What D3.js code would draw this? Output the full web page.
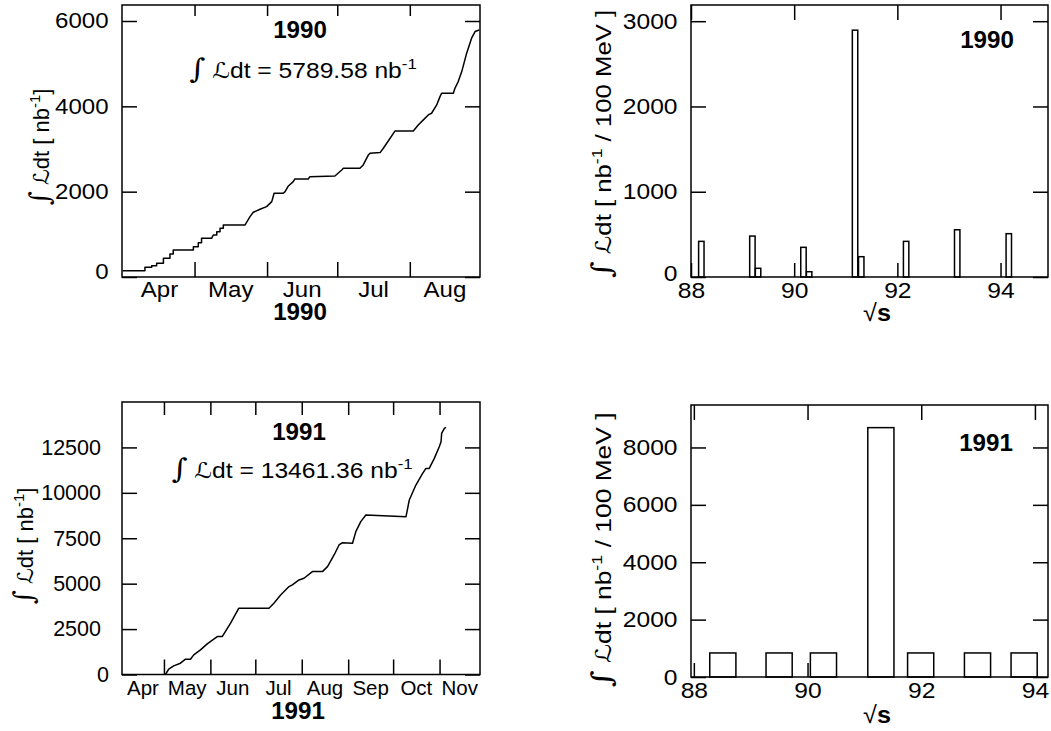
<!DOCTYPE html>
<html>
<head>
<meta charset="utf-8">
<script src="https://cdn.jsdelivr.net/npm/d3@7"></script>
<style>
  body { margin: 0; background: #fff; }
  svg { display: block; }
  text { font-family: "Liberation Sans", Arial, Helvetica, sans-serif; fill: #000; }
</style>
</head>
<body>
<svg width="1051" height="731"></svg>
<script>
// ---- integrated luminosity vs date (day of year, 0 = Jan 1) ----
const day90 = [89.3, 98.8, 98.8, 101.7, 101.7, 103.8, 103.8, 106.7, 106.7, 109.5, 109.5, 110.9, 110.9,
  119.5, 119.5, 121.6, 121.6, 123, 123, 127.3, 128, 129.5, 129.5, 130.9, 130.9, 132.3, 132.3, 141.6,
  143.7, 145.1, 148, 150.8, 153, 154, 157.9, 158.7, 160.1, 162.2, 162.9, 168.6, 169.3, 180, 182.9,
  183.6, 190.7, 192.1, 194.3, 195, 199.3, 200.7, 205.7, 213.5, 215.6, 217.8, 219.9, 221.3, 223.5,
  224.9, 225.6, 230.6, 231.3, 232.7, 234.2, 236.3, 238.4, 239.9, 241.6];
const lumi90 = [148, 148, 227, 227, 265, 265, 321, 321, 438, 438, 539, 539, 633,
  633, 711, 711, 805, 805, 907, 907, 985, 985, 1063, 1063, 1141, 1141, 1219, 1219,
  1414, 1517, 1587, 1649, 1766, 1962, 1962, 2000, 2134, 2235, 2298, 2298, 2352, 2368, 2509,
  2548, 2548, 2626, 2861, 2900, 2916, 3017, 3424, 3424, 3564, 3682, 3799, 3838, 4033,
  4228, 4307, 4307, 4424, 4580, 4814, 5246, 5597, 5753, 5790];

const day91 = [121, 123.2, 126.5, 131, 134.4, 137.7, 139.9, 144.4, 148.9, 155.6, 158.9, 164.5, 170,
  190.1, 193.4, 197.9, 203.5, 205.7, 210.2, 213.5, 219.1, 225.8, 229.2, 233.6, 236.9, 239.2, 245.9,
  248.1, 251.4, 254.8, 281.6, 283.8, 288.2, 292.7, 294.9, 297.1, 300.5, 303.8, 305, 305.4, 307.2, 308.3];
const lumi91 = [0, 293, 477, 623, 843, 843, 1081, 1356, 1686, 2090, 2090, 2823, 3648,
  3648, 3923, 4381, 4839, 4931, 5206, 5297, 5664, 5664, 5939, 6580, 7130, 7259, 7222,
  7864, 8413, 8780, 8688, 9605, 10430, 11071, 11346, 11346, 11896, 12538, 12813, 13271, 13546, 13601];

const total90 = "5789.58";
const total91 = "13461.36";

// ---- luminosity per centre-of-mass energy bin ----
const ecm90 = [88.2, 89.19, 89.3, 90.18, 90.29, 91.18, 91.3, 92.17, 93.16, 94.16];
const bin90 = [418, 480, 102, 348, 62, 2895, 238, 418, 554, 508];
const ecm91 = [88.51, 89.5, 90.28, 91.29, 91.99, 92.99, 93.81];
const bin91 = [838, 838, 838, 8691, 838, 838, 838];

const yTicksT90 = [0, 2000, 4000, 6000];
const yTicksT91 = [0, 2500, 5000, 7500, 10000, 12500];
const yTicksE90 = [0, 1000, 2000, 3000];
const yTicksE91 = [0, 2000, 4000, 6000, 8000];
const eTicks = [88, 90, 92, 94];

const svg = d3.select("svg");
const toDate = (year, d) => new Date(Date.UTC(year, 0, 1) + d * 864e5);
const fmt = d3.format("d");

function frame(b) {
  svg.append("rect")
    .attr("x", b.x0).attr("y", b.y0)
    .attr("width", b.x1 - b.x0).attr("height", b.y1 - b.y0)
    .attr("fill", "none").attr("stroke", "#000").attr("stroke-width", 1.5);
}

function styleAxis(g, size, k) {
  g.attr("font-family", null).attr("font-size", size);
  g.select(".domain").remove();
  g.selectAll(".tick line").attr("stroke", "#000").attr("stroke-width", 1.5);
  g.selectAll("text").attr("fill", "#000").attr("transform", `scale(${k},1)`);
}

function yAxes(b, y, ticks, pad, size, k) {
  const l = svg.append("g").attr("transform", `translate(${b.x0},0)`)
    .call(d3.axisLeft(y).tickValues(ticks).tickSize(-15).tickPadding(pad).tickFormat(fmt));
  styleAxis(l, size, k);
  const r = svg.append("g").attr("transform", `translate(${b.x1},0)`)
    .call(d3.axisRight(y).tickValues(ticks).tickSize(-15).tickFormat(""));
  styleAxis(r, size, k);
  return l;
}

function text(x, y, str, size, k, weight) {
  return svg.append("text")
    .attr("transform", `translate(${x},${y}) scale(${k},1)`)
    .attr("text-anchor", "middle")
    .attr("font-size", size)
    .attr("font-weight", weight || "normal")
    .text(str);
}

// "∫ ℒdt ..." with a superscript -1
function lumiText(t, size, mid, after) {
  t.append("tspan").attr("font-family", "DejaVu Serif").attr("font-style", "italic")
    .attr("font-size", size * 1.25).text("∫");
  t.append("tspan").text(" ");
  t.append("tspan").attr("font-family", "DejaVu Sans").text("ℒ");
  t.append("tspan").text(mid);
  t.append("tspan").attr("font-size", size * 0.68).attr("dy", -size * 0.4).text("-1");
  t.append("tspan").attr("dy", size * 0.4).text(after);
}

function titleY(x, y, size, k, after) {
  const t = svg.append("text")
    .attr("transform", `translate(${x},${y}) rotate(-90) scale(${k},1)`)
    .attr("text-anchor", "middle")
    .attr("font-size", size);
  lumiText(t, size, "dt [ nb", after);
}

function timePanel(b, year, days, lumi, yMax, ticks, x0, x1, opt) {
  const x = d3.scaleUtc().domain([x0, x1]).range([b.x0, b.x1]);
  const y = d3.scaleLinear().domain([0, yMax]).range([b.y1, b.y0]);
  const months = d3.utcMonth.range(d3.utcDay.offset(x0, 2), x1);

  const bot = svg.append("g").attr("transform", `translate(0,${b.y1})`)
    .call(d3.axisBottom(x).tickValues(months).tickSize(-15).tickFormat(""));
  styleAxis(bot, opt.size, 1);
  const top = svg.append("g").attr("transform", `translate(0,${b.y0})`)
    .call(d3.axisTop(x).tickValues(months).tickSize(-opt.topTick).tickFormat(""));
  styleAxis(top, opt.size, 1);

  const l = yAxes(b, y, ticks, opt.pad, opt.size, opt.k);
  l.selectAll(".tick text").filter(d => d === 0)
    .attr("y", opt.zeroDy).attr("x", -opt.zeroPad);

  // month names centred in the visible part of each month
  const starts = d3.utcMonth.range(d3.utcMonth.floor(d3.utcDay.offset(x0, 1)), x1);
  starts.forEach(m => {
    const a = Math.max(x(m), b.x0);
    const e = Math.min(x(d3.utcMonth.offset(m, 1)), b.x1);
    text((a + e) / 2, opt.monthBase, d3.utcFormat("%b")(m), opt.monthSize, opt.monthK);
  });

  const pts = days.map((d, i) => [toDate(year, d), lumi[i]]);
  svg.append("path")
    .datum(pts)
    .attr("fill", "none").attr("stroke", "#000").attr("stroke-width", 1.5)
    .attr("stroke-linejoin", "round")
    .attr("d", d3.line().x(d => x(d[0])).y(d => y(d[1])));
  frame(b);
}

function binPanel(b, ecm, lumi, w, xDom, yMax, ticks) {
  const x = d3.scaleLinear().domain(xDom).range([b.x0, b.x1]);
  const y = d3.scaleLinear().domain([0, yMax]).range([b.y1, b.y0]);

  const bot = svg.append("g").attr("transform", `translate(0,${b.y1})`)
    .call(d3.axisBottom(x).tickValues(eTicks).tickSize(-14).tickPadding(5).tickFormat(fmt));
  styleAxis(bot, 22, 1.12);
  const top = svg.append("g").attr("transform", `translate(0,${b.y0})`)
    .call(d3.axisTop(x).tickValues(eTicks).tickSize(-15).tickFormat(""));
  styleAxis(top, 22, 1.12);
  const l = yAxes(b, y, ticks, 12, 22, 1.12);

  svg.append("g").selectAll("rect")
    .data(ecm)
    .join("rect")
    .attr("x", d => x(d - w / 2))
    .attr("width", d => x(d + w / 2) - x(d - w / 2))
    .attr("y", (d, i) => y(lumi[i]))
    .attr("height", (d, i) => y(0) - y(lumi[i]))
    .attr("fill", "#fff").attr("stroke", "#000").attr("stroke-width", 1.5);
  frame(b);
  return l;
}

// ---- panel boxes ----
const TL = { x0: 122, x1: 480, y0: 5, y1: 277 };
const TR = { x0: 691, x1: 1048, y0: 5, y1: 277 };
const BL = { x0: 122, x1: 480, y0: 402, y1: 674.5 };
const BR = { x0: 691, x1: 1048, y0: 405, y1: 677 };

// 1990 luminosity vs time
timePanel(TL, 1990, day90, lumi90, 6375, yTicksT90,
  new Date(Date.UTC(1990, 2, 31)), new Date(Date.UTC(1990, 7, 31)),
  { size: 21.5, k: 1.12, pad: 12, zeroDy: -5, zeroPad: 12, topTick: 11,
    monthBase: 297, monthSize: 21.5, monthK: 1.12 });
text(300, 38, "1990", 23, 1.05, "bold");
text(300, 320, "1990", 23, 1.05, "bold");
{
  const t = svg.append("text").attr("transform", "translate(303,78) scale(1.12,1)")
    .attr("text-anchor", "middle").attr("font-size", 22);
  lumiText(t, 22, "dt = " + total90 + " nb", "");
}
titleY(49, 147, 22, 1.0, "]");

// 1991 luminosity vs time
timePanel(BL, 1991, day91, lumi91, 15000, yTicksT91,
  new Date(Date.UTC(1991, 3, 3)), new Date(Date.UTC(1991, 10, 28)),
  { size: 21.5, k: 1, pad: 21, zeroDy: 0, zeroPad: 13, topTick: 13,
    monthBase: 695, monthSize: 20.5, monthK: 1 });
text(299, 440, "1991", 23, 1.05, "bold");
text(298, 719, "1991", 23, 1.05, "bold");
{
  const t = svg.append("text").attr("transform", "translate(292,478) scale(1.12,1)")
    .attr("text-anchor", "middle").attr("font-size", 22);
  lumiText(t, 22, "dt = " + total91 + " nb", "");
}
titleY(33, 546, 22, 1.0, "]");

// 1990 luminosity per energy bin
const lTR = binPanel(TR, ecm90, bin90, 0.105, [88, 94.92], 3190, yTicksE90);
lTR.selectAll(".tick text").filter(d => d === 0).attr("y", -4);
text(987, 48, "1990", 23, 1.05, "bold");
titleY(611, 144, 22, 1.17, " / 100 MeV ]");
{
  const t = text(877, 321, "", 24, 1.05);
  t.append("tspan").text("√");
  t.append("tspan").attr("font-weight", "bold").text("s");
}

// 1991 luminosity per energy bin
binPanel(BR, ecm91, bin91, 0.46, [87.95, 94.23], 9480, yTicksE91);
text(986, 451, "1991", 23, 1.05, "bold");
titleY(611, 550, 22, 1.2, " / 100 MeV ]");
{
  const t = text(877, 723, "", 24, 1.05);
  t.append("tspan").text("√");
  t.append("tspan").attr("font-weight", "bold").text("s");
}
</script>
</body>
</html>
